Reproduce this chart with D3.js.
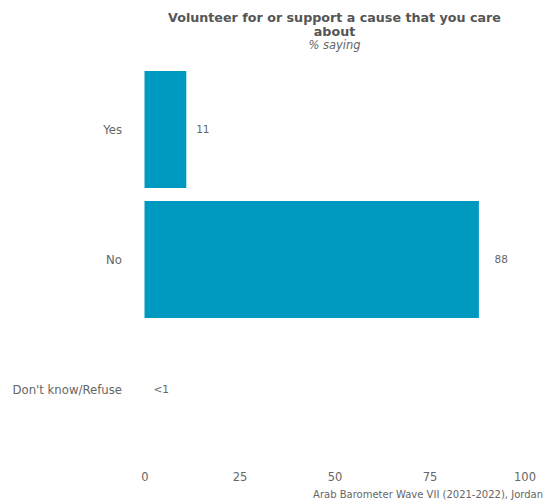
<!DOCTYPE html>
<html><head><meta charset="utf-8">
<script src="https://cdn.jsdelivr.net/npm/d3@7"></script>
<style>body{margin:0;background:#fff}svg{display:block}text{font-family:"DejaVu Sans",sans-serif}</style>
</head><body><svg id="c" width="547" height="503"></svg>
<script>
const categories = ["Yes", "No", "Don't know/Refuse"];
const values = [11, 88, 0];
const valueLabels = ["11", "88", "<1"];
const xTicks = [0, 25, 50, 75, 100];
const titleLines = ["Volunteer for or support a cause that you care", "about"];
const subtitle = "% saying";
const caption = "Arab Barometer Wave VII (2021-2022), Jordan";

const svg = d3.select("#c");
const x = d3.scaleLinear().domain([0, 100]).range([144.5, 524.5]);
const y = d3.scaleBand().domain(categories).range([58, 461]).padding(0.1);
const grey = "#555555";
const light = "#666666";

svg.selectAll("rect.bar").data(categories).join("rect")
  .attr("class", "bar")
  .attr("x", x(0))
  .attr("y", d => y(d))
  .attr("width", (d, i) => x(values[i]) - x(0))
  .attr("height", y.bandwidth())
  .attr("fill", "#009AC0");

svg.selectAll("text.val").data(categories).join("text")
  .attr("class", "val")
  .attr("x", (d, i) => x(values[i]) + 9 + (x(values[i]) - x(0)) * 0.02)
  .attr("y", d => y(d) + y.bandwidth() / 2)
  .attr("dy", "0.35em")
  .attr("font-size", 10.5)
  .attr("fill", light)
  .text((d, i) => valueLabels[i]);

svg.selectAll("text.cat").data(categories).join("text")
  .attr("class", "cat")
  .attr("x", 122)
  .attr("y", d => y(d) + y.bandwidth() / 2)
  .attr("dy", "0.35em")
  .attr("text-anchor", "end")
  .attr("font-size", 11.7)
  .attr("fill", light)
  .text(d => d);

const xAxis = svg.append("g").attr("transform", "translate(0,472)")
  .call(d3.axisBottom(x).tickValues(xTicks).tickSize(0).tickPadding(0));
xAxis.select(".domain").remove();
xAxis.selectAll("text").attr("font-size", 11.5).attr("fill", light)
  .attr("font-family", '"DejaVu Sans",sans-serif').attr("dy", "0.75em");

const cx = (x(0) + x(100)) / 2;
svg.selectAll("text.title").data(titleLines).join("text")
  .attr("class", "title")
  .attr("x", cx).attr("y", (d, i) => 22 + i * 14)
  .attr("text-anchor", "middle")
  .attr("font-size", 12.7).attr("font-weight", "bold").attr("fill", grey)
  .text(d => d);

svg.append("text").attr("x", cx).attr("y", 49)
  .attr("text-anchor", "middle").attr("font-size", 11.5).attr("font-style", "italic")
  .attr("fill", light).text(subtitle);

svg.append("text").attr("x", 543).attr("y", 498)
  .attr("text-anchor", "end").attr("font-size", 10).attr("fill", light).text(caption);
</script></body></html>
